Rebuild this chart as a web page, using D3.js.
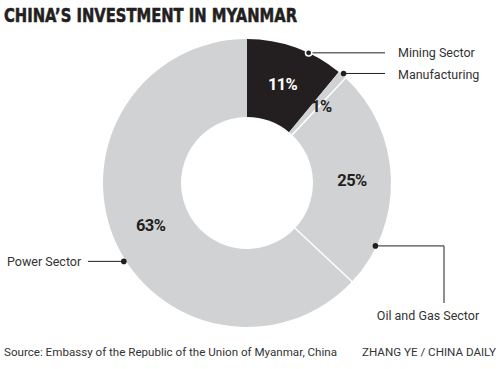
<!DOCTYPE html>
<html>
<head>
<meta charset="utf-8">
<script src="https://cdn.jsdelivr.net/npm/d3@7"></script>
<style>
  html, body { margin: 0; padding: 0; background: #fff; }
  svg { display: block; }
</style>
</head>
<body>
<svg id="chart" width="500" height="369"></svg>
<script>
// ---- data ----
const categories = ["Mining Sector", "Manufacturing", "Oil and Gas Sector", "Power Sector"];
const shares = [11, 1, 25, 63];
const percentLabels = ["11%", "1%", "25%", "63%"];
const title = "CHINA\u2019S INVESTMENT IN MYANMAR";
const source = "Source: Embassy of the Republic of the Union of Myanmar, China";
const credit = "ZHANG YE / CHINA DAILY";

// ---- layout ----
const W = 500, H = 369;
const cx = 247, cy = 183, rOuter = 144, rInner = 66;
const dark = "#231f20", gray = "#d1d2d4", textCol = "#333";
const fills = [dark, gray, gray, gray];

const svg = d3.select("#chart");

svg.append("text")
  .attr("x", 4).attr("y", 22)
  .attr("font-family", "'DejaVu Sans', sans-serif")
  .attr("font-weight", "bold")
  .attr("font-size", 20)
  .attr("fill", dark)
  .attr("stroke", dark)
  .attr("stroke-width", 0.6)
  .attr("textLength", 293)
  .attr("lengthAdjust", "spacingAndGlyphs")
  .text(title);

const pie = d3.pie().sort(null).value(d => d).startAngle(0).endAngle(2 * Math.PI);
const arcs = pie(shares);
const arc = d3.arc().innerRadius(rInner).outerRadius(rOuter);

const g = svg.append("g").attr("transform", `translate(${cx},${cy})`);

g.selectAll("path.slice")
  .data(arcs)
  .join("path")
  .attr("class", "slice")
  .attr("d", arc)
  .attr("fill", (d, i) => fills[i]);

// white separators between adjacent light slices
arcs.forEach((d, i) => {
  const prev = (i - 1 + arcs.length) % arcs.length;
  if (fills[i] === gray && fills[prev] === gray) {
    const a = d.startAngle;
    g.append("line")
      .attr("x1", rInner * Math.sin(a)).attr("y1", -rInner * Math.cos(a))
      .attr("x2", (rOuter + 1) * Math.sin(a)).attr("y2", -(rOuter + 1) * Math.cos(a))
      .attr("stroke", "#fff").attr("stroke-width", 1.5);
  }
});

// percent labels
const labelColors = ["#fff", dark, dark, dark];
arcs.forEach((d, i) => {
  let [x, y] = arc.centroid(d);
  if (i === 1) {
    const a = (d.startAngle + d.endAngle) / 2 + 0.02;
    x = 110 * Math.sin(a); y = -110 * Math.cos(a) + 4;
  }
  g.append("text")
    .attr("x", x).attr("y", y)
    .attr("dy", "0.36em")
    .attr("text-anchor", "middle")
    .attr("font-family", "Roboto, 'Liberation Sans', sans-serif")
    .attr("font-weight", "bold")
    .attr("font-size", 16.5)
    .attr("fill", labelColors[i])
    .attr("letter-spacing", -0.6)
    .text(percentLabels[i]);
});

// callouts: anchor position as fraction through slice
const anchorFrac = [0.64, 0.5, 0.81, 0.46];
const anchorR = [144, 146, 143, 146];
function anchorPt(i) {
  const d = arcs[i];
  const a = d.startAngle + (d.endAngle - d.startAngle) * anchorFrac[i];
  return [cx + anchorR[i] * Math.sin(a), cy - anchorR[i] * Math.cos(a)];
}
const lab = svg.append("g")
  .attr("font-family", "Roboto, 'Liberation Sans', sans-serif")
  .attr("font-size", 12.5)
  .attr("fill", textCol);

function dot(p, ring) {
  svg.append("circle").attr("cx", p[0]).attr("cy", p[1]).attr("r", ring ? 3.2 : 2.8)
    .attr("fill", dark).attr("stroke", ring ? "#fff" : "none").attr("stroke-width", 1.5);
}
function line(pts) {
  svg.append("path").attr("d", d3.line()(pts)).attr("fill", "none")
    .attr("stroke", dark).attr("stroke-width", 1);
}

// Mining
let p = anchorPt(0);
line([p, [385, p[1]]]);
dot(p, true);
lab.append("text").attr("x", 398).attr("y", p[1]).attr("dy", "0.35em").text(categories[0]);

// Manufacturing
p = anchorPt(1);
line([p, [385, p[1]]]);
dot(p, false);
lab.append("text").attr("x", 398).attr("y", p[1] + 1).attr("dy", "0.35em").text(categories[1]);

// Oil and Gas
p = anchorPt(2);
line([p, [444, p[1]], [444, 303]]);
dot(p, false);
lab.append("text").attr("x", 428).attr("y", 320).attr("text-anchor", "middle").text(categories[2]);

// Power
p = anchorPt(3);
line([[88, p[1]], p]);
dot(p, false);
lab.append("text").attr("x", 7).attr("y", p[1]).attr("dy", "0.35em").text(categories[3]);

// footer
svg.append("text").attr("x", 4).attr("y", 356)
  .attr("font-family", "Roboto, 'Liberation Sans', sans-serif")
  .attr("font-size", 11).attr("fill", textCol)
  .attr("textLength", 333).attr("lengthAdjust", "spacingAndGlyphs")
  .text(source);
svg.append("text").attr("x", 362).attr("y", 356)
  .attr("font-family", "Roboto, 'Liberation Sans', sans-serif")
  .attr("font-size", 11.5).attr("fill", textCol)
  .attr("textLength", 134).attr("lengthAdjust", "spacingAndGlyphs")
  .text(credit);
</script>
</body>
</html>
